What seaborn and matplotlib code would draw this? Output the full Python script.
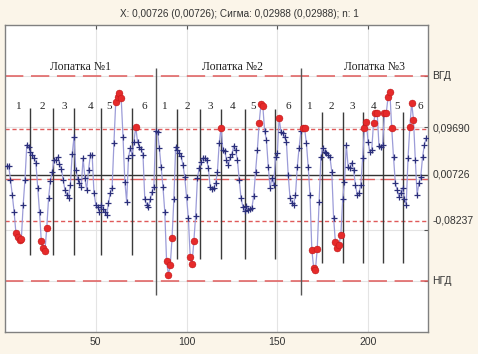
import numpy as np
import pandas as pd
import matplotlib.pyplot as plt
import seaborn as sns

# measured deviations, three blades in a row
blade1 = [0.025, 0.025, -0.002, -0.032, -0.065, -0.106, -0.114, -0.120, -0.118, -0.051,
          -0.002, 0.066, 0.062, 0.052, 0.046, 0.040, 0.031, -0.018, -0.065, -0.123,
          -0.135, -0.141, -0.096, -0.038, -0.004, 0.013, 0.037, 0.037, 0.042, 0.029,
          0.019, -0.002, -0.022, -0.032, -0.038, -0.012, 0.048, 0.081, 0.017, -0.001,
          -0.009, -0.016, 0.040, 0.001, -0.022, 0.017, 0.046, 0.046, -0.028, -0.051,
          -0.055, -0.065, -0.051, -0.059, -0.065, -0.071, -0.048, -0.028, -0.018, 0.070,
          0.150, 0.159, 0.167, 0.157, 0.081, -0.006, -0.045, 0.040, 0.060, 0.046,
          0.072, 0.101, 0.072, 0.062, 0.058, 0.046, -0.041, -0.051, -0.055, -0.041,
          -0.026, -0.016]
blade2 = [0.093, 0.091, 0.060, 0.023, -0.016, -0.065, -0.162, -0.188, -0.170, -0.117,
          -0.041, 0.062, 0.056, 0.050, 0.044, 0.027, 0.003, -0.036, -0.078, -0.153,
          -0.168, -0.123, -0.073, 0.001, 0.021, 0.033, 0.040, 0.040, 0.037, 0.021,
          -0.016, -0.020, -0.018, -0.009, 0.013, 0.070, 0.099, 0.056, 0.054, 0.037,
          0.027, 0.042, 0.048, 0.064, 0.056, 0.037, -0.002, -0.038, -0.055, -0.063,
          -0.053, -0.061, -0.059, -0.057, -0.034, 0.013, 0.056, 0.109, 0.146, 0.142,
          0.093, 0.076, 0.023, -0.018, 0.001, -0.012, 0.042, 0.050, 0.118, 0.091,
          0.089, 0.081, 0.072, 0.007, -0.038, -0.048, -0.051, -0.032, 0.023, 0.060,
          0.093]
blade3 = [0.099, 0.098, 0.070, 0.023, -0.032, -0.139, -0.174, -0.178, -0.137, -0.045,
          0.042, 0.060, 0.052, 0.050, 0.046, 0.042, 0.013, -0.077, -0.125, -0.135,
          -0.129, -0.110, -0.041, -0.006, 0.066, 0.023, 0.021, 0.031, 0.017, -0.012,
          -0.032, -0.028, -0.012, 0.040, 0.099, 0.110, 0.072, 0.052, 0.056, 0.109,
          0.128, 0.128, 0.064, 0.062, 0.066, 0.128, 0.128, 0.159, 0.169, 0.099,
          0.042, -0.009, -0.022, -0.036, -0.028, -0.018, -0.041, -0.051, 0.040, 0.101,
          0.148, 0.115, 0.037, -0.032, -0.009, 0.003, 0.042, 0.066, 0.079]

mean = 0.00726
sigma = 0.02988
ucl = 0.09690
lcl = -0.08237
upper_tol = 0.2   # ВГД
lower_tol = -0.2  # НГД
nominal = 0.0

blade_names = ['Лопатка №1', 'Лопатка №2', 'Лопатка №3']
blade_name_x = [41.4, 125.4, 203.5]
blade_sep = [83, 163.2]
section_sep = [[13.5, 26.2, 38.1, 52.9, 70.1],
               [94.5, 107.3, 119.2, 132.4, 148.5],
               [174.5, 186.4, 197.0, 208.4, 219.0]]
section_label_x = [[7.5, 20.3, 32.8, 46.9, 57.5, 76.5],
                   [88.0, 100.5, 113.2, 125.6, 136.6, 155.8],
                   [168.1, 180.0, 191.0, 202.9, 215.7, 228.7]]
section_top = [0.138, 0.136, 0.130]
section_bot = [-0.150, -0.158, -0.166]

values = blade1 + blade2 + blade3
df = pd.DataFrame({'n': np.arange(1, len(values) + 1), 'value': values})
df['out'] = (df['value'] > ucl) | (df['value'] < lcl)

sns.set_style("white")
plt.rcParams['font.family'] = ['Liberation Sans', 'DejaVu Sans']

fig = plt.figure(figsize=(4.78, 3.54), dpi=100, facecolor='#fbf5e9')
ax = fig.add_axes([0.0105, 0.0621, 0.8849, 0.8673])
ax.set_facecolor('white')

# grid
for gx in [50, 100, 150, 200]:
    ax.axvline(gx, color='#e4e4e4', lw=0.8, zorder=0)
for gy in [-0.2, -0.1, 0.0, 0.1, 0.2]:
    ax.axhline(gy, color='#e4e4e4', lw=0.8, zorder=0)

# control lines
red = '#e05a5a'
ax.axhline(upper_tol, color=red, lw=1.1, dashes=(12, 5), zorder=2)
ax.axhline(lower_tol, color=red, lw=1.1, dashes=(12, 5), zorder=2)
ax.axhline(ucl, color=red, lw=1.0, dashes=(3, 2), zorder=2)
ax.axhline(lcl, color=red, lw=1.0, dashes=(3, 2), zorder=2)
ax.axhline(nominal, color=red, lw=1.0, dashes=(11, 4), zorder=2)
ax.axhline(mean, color='#333333', lw=1.0, zorder=2)

# separators
ax.vlines(blade_sep, -0.228, 0.215, color='#555555', lw=1.0, zorder=3)
for xs, top, bot in zip(section_sep, section_top, section_bot):
    ax.vlines(xs, bot, top, color='#3a3a3a', lw=1.0, zorder=3)

# data
sns.lineplot(data=df, x='n', y='value', ax=ax, color='#9c9cd8', lw=0.9,
             marker='+', markersize=4.5, markeredgecolor='#2b2f7a',
             markeredgewidth=0.9, zorder=4)
sns.scatterplot(data=df[df['out']], x='n', y='value', ax=ax, color='#e62a2a',
                s=24, edgecolor='#c41a1a', linewidth=0.4, zorder=5)

# texts
for name, bx in zip(blade_names, blade_name_x):
    ax.text(bx, 0.207, name, ha='center', va='bottom', fontsize=8.5,
            family='Liberation Serif', color='#222222', zorder=6)
for labs in section_label_x:
    for k, lx in enumerate(labs):
        ax.text(lx, 0.140, str(k + 1), ha='center', va='center', fontsize=8,
                family='Liberation Serif', color='#222222', zorder=6)

tr = ax.get_yaxis_transform()
right_labels = [(upper_tol, 'ВГД'), (ucl, '0,09690'), (mean, '0,00726'),
                (lcl, '-0,08237'), (lower_tol, 'НГД')]
for yv, lab in right_labels:
    ax.text(1.01, yv, lab, transform=tr, ha='left', va='center',
            fontsize=7.5, color='#333333')

fig.text(0.5, 1 - 14 / 354, 'X: 0,00726 (0,00726); Сигма: 0,02988 (0,02988); n: 1',
         ha='center', va='center', fontsize=7.2, color='#333333')

ax.set_xlim(0, 233)
ax.set_ylim(-0.3, 0.3)
ax.set_xticks([50, 100, 150, 200])
ax.set_yticks([-0.2, -0.1, 0.0, 0.1, 0.2])
ax.set_yticklabels([])
ax.tick_params(axis='x', direction='in', length=3, top=True, labelsize=7.5,
               labelcolor='#333333', color='#555555')
ax.tick_params(axis='y', direction='in', length=3, left=False, right=True,
               color='#555555')
ax.set_xlabel('')
ax.set_ylabel('')
for sp in ax.spines.values():
    sp.set_color('#808080')
    sp.set_linewidth(1.0)

fig.savefig('out.png', dpi=100, facecolor=fig.get_facecolor())
